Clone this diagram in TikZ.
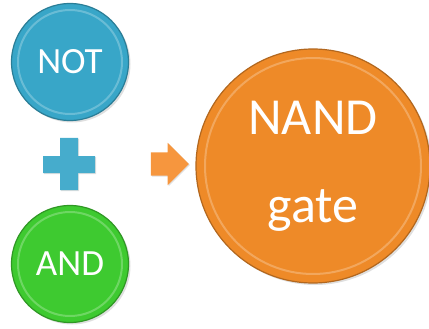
\documentclass[tikz,border=0pt]{standalone}
\usepackage{fontspec}
\setmainfont{Carlito}
\usepackage{tikz}
\usetikzlibrary{shapes.arrows,shadows}

\definecolor{notblue}{RGB}{56,166,200}
\definecolor{andgreen}{RGB}{62,202,48}
\definecolor{nandorange}{RGB}{238,138,40}
\definecolor{plusblue}{RGB}{70,172,204}
\definecolor{arroworange}{RGB}{246,150,62}

\begin{document}
\begin{tikzpicture}[
  x=1pt, y=-1pt,
  every node/.style={text=white},
  ball/.style={circle, inner sep=0pt, fill=#1, draw=#1!75!black, line width=1.2pt,
    drop shadow={opacity=0.25, shadow xshift=2pt, shadow yshift=-2pt}},
  rim/.style={draw=white, opacity=0.25, line width=2pt},
  smallball/.style={ball=#1, minimum size=117pt, font=\fontsize{37}{40}\selectfont},
  bigball/.style={ball=#1, minimum size=234pt, align=center, font=\fontsize{52}{88}\selectfont},
  blockarrow/.style={single arrow, fill=arroworange, inner xsep=0pt, inner ysep=11.5pt,
    minimum height=38pt, single arrow head extend=9.5pt,
    drop shadow={opacity=0.25, shadow xshift=1pt, shadow yshift=-1pt}}
]
\useasboundingbox (0,0) rectangle (429,329);

\node[smallball=notblue] (notball) at (70,62) {NOT};
\node[smallball=andgreen] (andball) at (70,264) {AND};
\node[bigball=nandorange] (nandball) at (313,166) {NAND\\gate};

% light inner rims
\draw[rim] (notball.center) circle (52pt);
\draw[rim] (andball.center) circle (52pt);
\draw[rim] (nandball.center) circle (108pt);

% plus sign
\fill[plusblue, drop shadow={opacity=0.25, shadow xshift=1pt, shadow yshift=-1pt}]
  (60,138) -- (78,138) -- (78,156) -- (95,156) -- (95,173) -- (78,173) -- (78,190)
  -- (60,190) -- (60,173) -- (43,173) -- (43,156) -- (60,156) -- cycle;

\node[blockarrow] (arrow) at (164,164) {};
\end{tikzpicture}
\end{document}
